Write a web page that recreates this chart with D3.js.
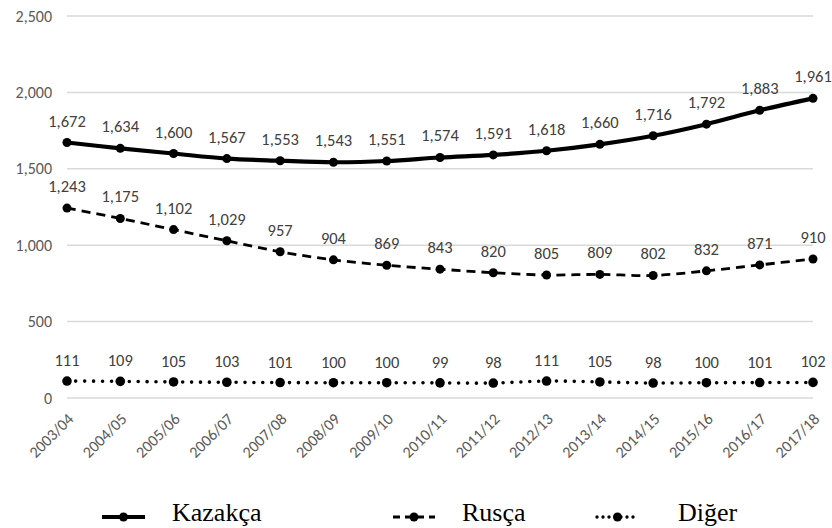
<!DOCTYPE html>
<html>
<head>
<meta charset="utf-8">
<script src="https://cdn.jsdelivr.net/npm/d3@7"></script>
<style>
  html, body { margin: 0; padding: 0; background: #fff; }
  svg { display: block; }
</style>
</head>
<body>
<svg id="chart" width="832" height="528"></svg>
<script>
// School years
const years = ["2003/04","2004/05","2005/06","2006/07","2007/08","2008/09","2009/10",
  "2010/11","2011/12","2012/13","2013/14","2014/15","2015/16","2016/17","2017/18"];

// Values per language of instruction
const kazakca = [1672,1634,1600,1567,1553,1543,1551,1574,1591,1618,1660,1716,1792,1883,1961];
const rusca   = [1243,1175,1102,1029,957,904,869,843,820,805,809,802,832,871,910];
const diger   = [111,109,105,103,101,100,100,99,98,111,105,98,100,101,102];

const yTicks = [0,500,1000,1500,2000,2500];
const seriesNames = ["Kazakça","Rusça","Diğer"];

const svg = d3.select("#chart");

const x = d3.scalePoint().domain(years).range([67, 813]);
const y = d3.scaleLinear().domain([0, 2500]).range([398, 16]);

const sansFont = "Carlito, Lato, sans-serif";
const serifFont = "Liberation Serif";
const fmt = d3.format(",");

// Horizontal gridlines
svg.append("g")
  .selectAll("line")
  .data(yTicks)
  .join("line")
  .attr("x1", 67).attr("x2", 813)
  .attr("y1", d => y(d)).attr("y2", d => y(d))
  .attr("stroke", "#d9d9d9")
  .attr("stroke-width", 1.5);

// Y axis labels
const yAxis = d3.axisLeft(y).tickValues(yTicks).tickFormat(fmt).tickSize(0).tickPadding(0);
svg.append("g")
  .attr("transform", "translate(52,0)")
  .call(yAxis)
  .attr("font-family", sansFont)
  .attr("font-size", 16)
  .call(g => g.select(".domain").remove())
  .call(g => g.selectAll("text").attr("fill", "#595959"));

// X axis labels, rotated
const xAxis = d3.axisBottom(x).tickSize(0).tickPadding(0);
svg.append("g")
  .attr("transform", "translate(0,398)")
  .call(xAxis)
  .attr("font-family", sansFont)
  .attr("font-size", 16)
  .call(g => g.select(".domain").remove())
  .call(g => g.selectAll("text")
    .attr("fill", "#595959")
    .attr("text-anchor", "end")
    .attr("dy", null)
    .attr("transform", "translate(7,22) rotate(-45)"));

const series = [
  { name: seriesNames[0], values: kazakca, width: 4.2, dash: null, cap: "butt", r: 4.5, labelDy: -16 },
  { name: seriesNames[1], values: rusca, width: 2.8, dash: "9 6", cap: "butt", r: 4.5, labelDy: -16 },
  { name: seriesNames[2], values: diger, width: 3.6, dash: "0 8.9", cap: "round", r: 4.8, labelDy: -15 }
];

series.forEach(s => {
  const pts = s.values.map((v, i) => [x(years[i]), y(v)]);
  const line = d3.line().curve(d3.curveCatmullRom.alpha(0.5));
  svg.append("path")
    .attr("d", line(pts))
    .attr("fill", "none")
    .attr("stroke", "#000")
    .attr("stroke-width", s.width)
    .attr("stroke-linecap", s.cap)
    .attr("stroke-linejoin", "round")
    .attr("stroke-dasharray", s.dash);

  svg.append("g")
    .selectAll("circle")
    .data(pts)
    .join("circle")
    .attr("cx", d => d[0]).attr("cy", d => d[1])
    .attr("r", s.r)
    .attr("fill", "#000");

  svg.append("g")
    .attr("font-family", sansFont)
    .attr("font-size", 16.5)
    .selectAll("text")
    .data(s.values)
    .join("text")
    .attr("x", (d, i) => x(years[i]))
    .attr("y", d => y(d) + s.labelDy)
    .attr("text-anchor", "middle")
    .attr("fill", "#404040")
    .text(d => fmt(d));
});

// Legend
const legendItems = [
  { name: seriesNames[0], x0: 102, x1: 145, tx: 172, width: 4, dash: null, cap: "butt" },
  { name: seriesNames[1], x0: 393, x1: 435, tx: 462, width: 2.8, dash: "7 5", cap: "butt" },
  { name: seriesNames[2], x0: 597, x1: 638, tx: 678, width: 3.4, dash: "0 6", cap: "round" }
];
const ly = 517;
const lg = svg.append("g");
legendItems.forEach(it => {
  lg.append("line")
    .attr("x1", it.x0).attr("x2", it.x1)
    .attr("y1", ly).attr("y2", ly)
    .attr("stroke", "#000")
    .attr("stroke-width", it.width)
    .attr("stroke-linecap", it.cap)
    .attr("stroke-dasharray", it.dash);
  lg.append("circle")
    .attr("cx", (it.x0 + it.x1) / 2).attr("cy", ly)
    .attr("r", 4.5).attr("fill", "#000");
  lg.append("text")
    .attr("x", it.tx).attr("y", 521)
    .attr("fill", "#000")
    .attr("font-family", serifFont)
    .attr("font-size", 26)
    .text(it.name);
});
</script>
</body>
</html>
